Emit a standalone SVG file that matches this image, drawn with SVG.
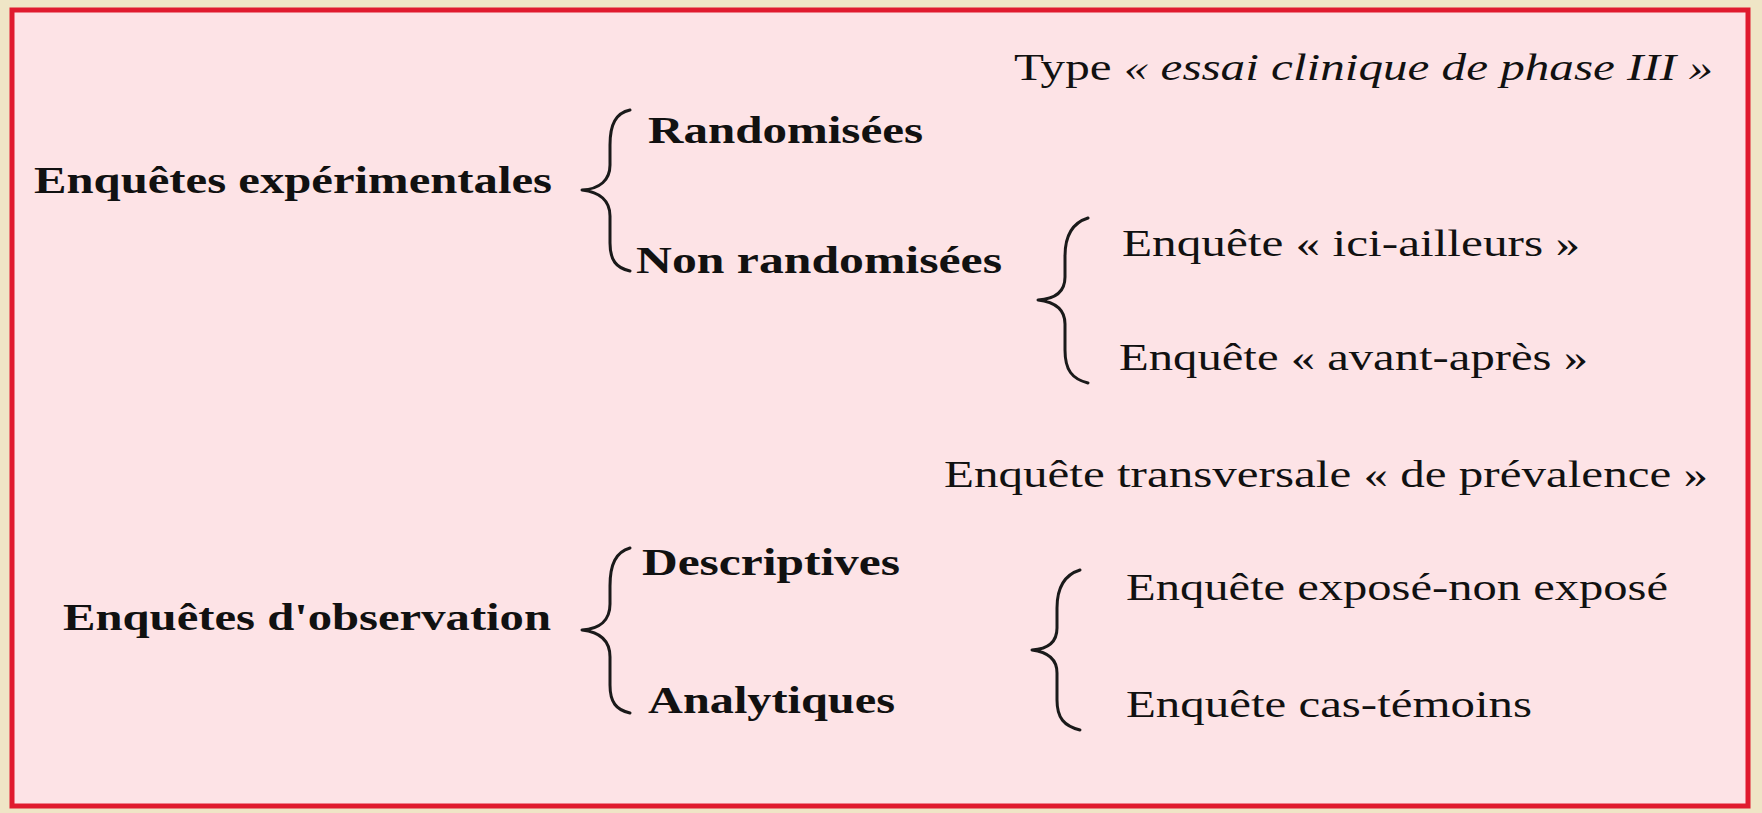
<svg xmlns="http://www.w3.org/2000/svg" width="1762" height="813" viewBox="0 0 1762 813">
<style>
.b{font-family:"Liberation Serif","DejaVu Serif",serif;font-weight:bold;font-size:38px;fill:#111}
.r{font-family:"Liberation Serif","DejaVu Serif",serif;font-size:37px;fill:#111}
.i{font-style:italic}
.brace{fill:none;stroke:#1a1a1a;stroke-width:3;stroke-linecap:round;stroke-linejoin:round}
</style>
<rect x="0" y="0" width="1762" height="813" fill="#efe5c6"/>
<rect x="12" y="10" width="1736" height="796" fill="#fde3e6" stroke="#e01a2e" stroke-width="5"/>
<g id="connectors">
<path class="brace" d="M630,110 C616,113 610,124 610,145 L610,165 C610,180 600,189 582,190 C600,192 610,201 610,216 L610,243 C610,260 616,268 630,271"/>
<path class="brace" d="M1088,218 C1072,223 1065,236 1065,256 L1065,277 C1065,292 1055,299 1038,300 C1055,302 1065,309 1065,324 L1065,350 C1065,370 1072,379 1088,383"/>
<path class="brace" d="M630,548 C616,552 610,564 610,586 L610,604 C610,620 600,629 582,630 C600,632 610,641 610,657 L610,685 C610,702 616,710 630,713"/>
<path class="brace" d="M1080,570 C1064,575 1057,588 1057,608 L1057,628 C1057,642 1048,649 1032,650 C1048,652 1057,659 1057,673 L1057,700 C1057,718 1064,726 1080,730"/>
</g>
<g id="n-exp"><text class="b" x="34" y="193" textLength="518" lengthAdjust="spacingAndGlyphs">Enquêtes expérimentales</text></g>
<g id="n-type"><text class="r" x="1014" y="80" textLength="699" lengthAdjust="spacingAndGlyphs">Type <tspan class="i">« essai clinique de phase III »</tspan></text></g>
<g id="n-rand"><text class="b" x="648" y="143" textLength="275" lengthAdjust="spacingAndGlyphs">Randomisées</text></g>
<g id="n-nonrand"><text class="b" x="636" y="273" textLength="366" lengthAdjust="spacingAndGlyphs">Non randomisées</text></g>
<g id="n-ici"><text class="r" x="1122" y="256" textLength="458" lengthAdjust="spacingAndGlyphs">Enquête « ici-ailleurs »</text></g>
<g id="n-avant"><text class="r" x="1119" y="370" textLength="469" lengthAdjust="spacingAndGlyphs">Enquête « avant-après »</text></g>
<g id="n-transv"><text class="r" x="944" y="487" textLength="764" lengthAdjust="spacingAndGlyphs">Enquête transversale « de prévalence »</text></g>
<g id="n-obs"><text class="b" x="63" y="630" textLength="488" lengthAdjust="spacingAndGlyphs">Enquêtes d'observation</text></g>
<g id="n-desc"><text class="b" x="642" y="575" textLength="258" lengthAdjust="spacingAndGlyphs">Descriptives</text></g>
<g id="n-anal"><text class="b" x="648" y="713" textLength="247" lengthAdjust="spacingAndGlyphs">Analytiques</text></g>
<g id="n-expose"><text class="r" x="1126" y="600" textLength="542" lengthAdjust="spacingAndGlyphs">Enquête exposé-non exposé</text></g>
<g id="n-cas"><text class="r" x="1126" y="717" textLength="406" lengthAdjust="spacingAndGlyphs">Enquête cas-témoins</text></g>
</svg>
